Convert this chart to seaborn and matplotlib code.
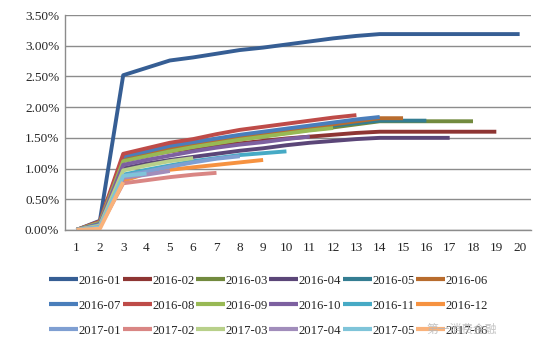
import matplotlib
matplotlib.use("Agg")
import matplotlib.pyplot as plt
import matplotlib.ticker as mticker
import numpy as np
import pandas as pd
import seaborn as sns

# Cumulative loss rate (%) by months on book, one vintage per series
cohorts = ["2016-01", "2016-02", "2016-03", "2016-04", "2016-05", "2016-06",
           "2016-07", "2016-08", "2016-09", "2016-10", "2016-11", "2016-12",
           "2017-01", "2017-02", "2017-03", "2017-04", "2017-05", "2017-06"]

v2016_01 = [0, 0.15, 2.52, 2.64, 2.76, 2.81, 2.87, 2.93, 2.97, 3.02, 3.07, 3.12, 3.16, 3.19, 3.19, 3.19, 3.19, 3.19, 3.19, 3.19]
v2016_02 = [0, 0.12, 1.15, 1.22, 1.28, 1.33, 1.37, 1.41, 1.45, 1.49, 1.52, 1.55, 1.58, 1.60, 1.60, 1.60, 1.60, 1.60, 1.60]
v2016_03 = [0, 0.12, 1.14, 1.22, 1.30, 1.36, 1.42, 1.48, 1.53, 1.58, 1.63, 1.67, 1.72, 1.77, 1.77, 1.77, 1.77, 1.77]
v2016_04 = [0, 0.10, 1.00, 1.08, 1.14, 1.19, 1.24, 1.29, 1.33, 1.38, 1.42, 1.45, 1.48, 1.50, 1.50, 1.50, 1.50]
v2016_05 = [0, 0.12, 1.16, 1.24, 1.32, 1.38, 1.44, 1.50, 1.55, 1.60, 1.65, 1.70, 1.74, 1.78, 1.78, 1.78]
v2016_06 = [0, 0.12, 1.18, 1.26, 1.34, 1.40, 1.46, 1.52, 1.57, 1.62, 1.67, 1.72, 1.77, 1.82, 1.82]
v2016_07 = [0, 0.12, 1.20, 1.28, 1.37, 1.43, 1.49, 1.55, 1.60, 1.65, 1.70, 1.75, 1.80, 1.84]
v2016_08 = [0, 0.14, 1.24, 1.33, 1.42, 1.48, 1.56, 1.63, 1.68, 1.73, 1.78, 1.83, 1.87]
v2016_09 = [0, 0.12, 1.12, 1.20, 1.28, 1.35, 1.41, 1.47, 1.52, 1.57, 1.62, 1.66]
v2016_10 = [0, 0.10, 1.06, 1.14, 1.21, 1.28, 1.34, 1.39, 1.43, 1.48, 1.52]
v2016_11 = [0, 0.08, 0.90, 0.98, 1.05, 1.12, 1.17, 1.22, 1.25, 1.28]
v2016_12 = [0, 0.05, 0.80, 0.92, 0.98, 1.02, 1.06, 1.10, 1.14]
v2017_01 = [0, 0.06, 0.88, 0.95, 1.03, 1.10, 1.16, 1.20]
v2017_02 = [0, 0.05, 0.76, 0.81, 0.86, 0.90, 0.93]
v2017_03 = [0, 0.07, 0.97, 1.05, 1.12, 1.17]
v2017_04 = [0, 0.05, 0.85, 0.90, 0.96]
v2017_05 = [0, 0.04, 0.88, 0.92]
v2017_06 = [0, 0.02, 0.78]

series = [v2016_01, v2016_02, v2016_03, v2016_04, v2016_05, v2016_06,
          v2016_07, v2016_08, v2016_09, v2016_10, v2016_11, v2016_12,
          v2017_01, v2017_02, v2017_03, v2017_04, v2017_05, v2017_06]

months = list(range(1, 21))

colors = ["#365E94", "#8E3533", "#728A3E", "#5B4678", "#347D92", "#B86C2E",
          "#4A7EBB", "#BE4B48", "#98B954", "#7D60A0", "#46AAC5", "#F69240",
          "#7F9FD2", "#D98684", "#B8D08A", "#A18DBB", "#7FC4D9", "#F9B27B"]

rows = []
for name, vals in zip(cohorts, series):
    for m, v in zip(months, vals):
        rows.append({"month": m, "rate": v, "cohort": name})
df = pd.DataFrame(rows)

sns.set_style("white")
plt.rcParams["font.family"] = ["Liberation Serif", "DejaVu Serif"]

fig = plt.figure(figsize=(5.5, 3.5), dpi=100)
ax = fig.add_axes([0.118, 0.343, 0.848, 0.614])

sns.lineplot(data=df, x="month", y="rate", hue="cohort", hue_order=cohorts,
             palette=colors, linewidth=2.8, ax=ax, legend=True,
             solid_capstyle="butt")

grid_c = "#8C8C8C"
ax.set_xlim(0.5, 20.5)
ax.set_ylim(0, 3.5)
ax.set_yticks(np.arange(0, 3.51, 0.5))
ax.yaxis.set_major_formatter(mticker.FuncFormatter(lambda v, p: f"{v:.2f}%"))
ax.set_xticks(months)
ax.set_xticklabels([str(m) for m in months])
ax.set_xticks(np.arange(0.5, 20.6, 1), minor=True)
ax.tick_params(axis="x", which="major", length=0, pad=9, labelsize=9.5)
ax.tick_params(axis="x", which="minor", length=4, width=0.9, color=grid_c, direction="out")
ax.tick_params(axis="y", length=0, pad=4, labelsize=9.5)
ax.yaxis.grid(True, color=grid_c, linewidth=1.0)
ax.set_axisbelow(True)
for s in ["top", "right"]:
    ax.spines[s].set_visible(False)
for s in ["left", "bottom"]:
    ax.spines[s].set_color(grid_c)
    ax.spines[s].set_linewidth(1.0)
ax.set_xlabel("")
ax.set_ylabel("")

# legend entries laid out row by row (six per row)
handles, labels = ax.get_legend_handles_labels()
ncol, nrow = 6, 3
order = [r * ncol + c for c in range(ncol) for r in range(nrow)]
ax.legend([handles[i] for i in order], [labels[i] for i in order],
          loc="upper center", bbox_to_anchor=(0.437, -0.185),
          ncol=ncol, frameon=False, fontsize=9.2, handlelength=2.25, handletextpad=0.05,
          columnspacing=0.12, labelspacing=1.02, borderaxespad=0)
for line in ax.get_legend().get_lines():
    line.set_linewidth(3.0)

fig.text(0.775, 0.05, "第一消费金融", fontsize=8.5, color="#B8B8B8",
         family=["Noto Sans CJK SC", "DejaVu Sans"], alpha=0.85)

fig.savefig("out.png", dpi=100)
